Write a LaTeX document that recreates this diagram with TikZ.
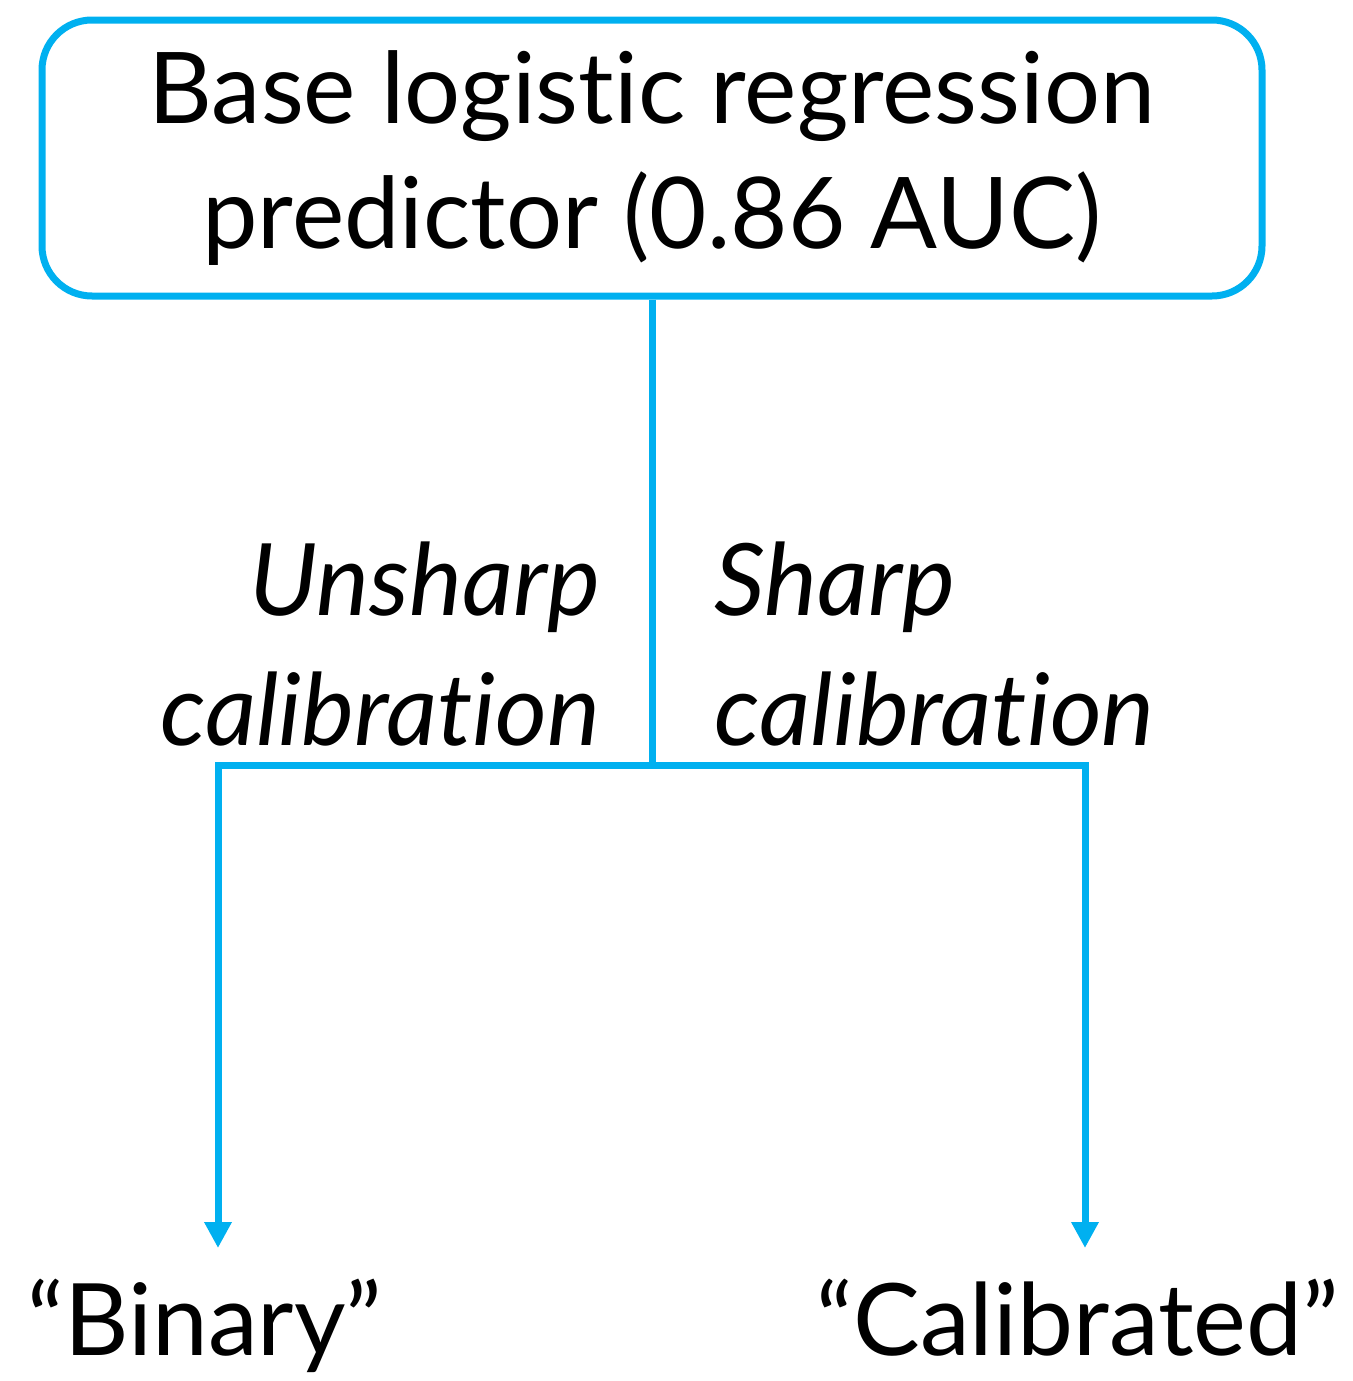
\documentclass[tikz,border=0pt]{standalone}
\usepackage{fontspec}
\setmainfont{Lato}[Ligatures=NoCommon]
\usetikzlibrary{arrows.meta,positioning}
\definecolor{skyblue}{RGB}{0,176,240}

\begin{document}
\begin{tikzpicture}[x=0.5pt,y=-0.5pt,line width=3.5pt,
  >={Triangle[width=13pt,length=13pt]},
  box/.style={draw=skyblue,rounded corners=25pt,minimum width=610pt,minimum height=138pt,
    align=center,font=\fontsize{49.5}{62.5}\selectfont},
  branch/.style={font=\fontsize{50}{65}\selectfont\itshape,inner sep=0pt},
  leaf/.style={font=\fontsize{50}{60}\selectfont,inner sep=0pt,anchor=north}]
  \useasboundingbox (0,0) rectangle (1353,1381);

  \node[box] (base) at (652,158) {Base logistic regression\\predictor (0.86 AUC)};
  \coordinate (split) at (652,765);
  \node[leaf] (binary) at (205,1276) {``Binary''};
  \node[leaf] (calib) at (1078,1276) {``Calibrated''};

  \node[branch,anchor=base east,align=right] (unsharp) at (604,745) {Unsharp\\calibration};
  \node[branch,anchor=base west,align=left] (sharp) at (711,745) {Sharp\\calibration};

  \draw[skyblue] (base.south) -- (split);
  \draw[skyblue,->] (split) -| ([xshift=6.5pt,yshift=14pt]binary.north);
  \draw[skyblue,->] (split) -| ([xshift=3.5pt,yshift=14pt]calib.north);
\end{tikzpicture}
\end{document}
